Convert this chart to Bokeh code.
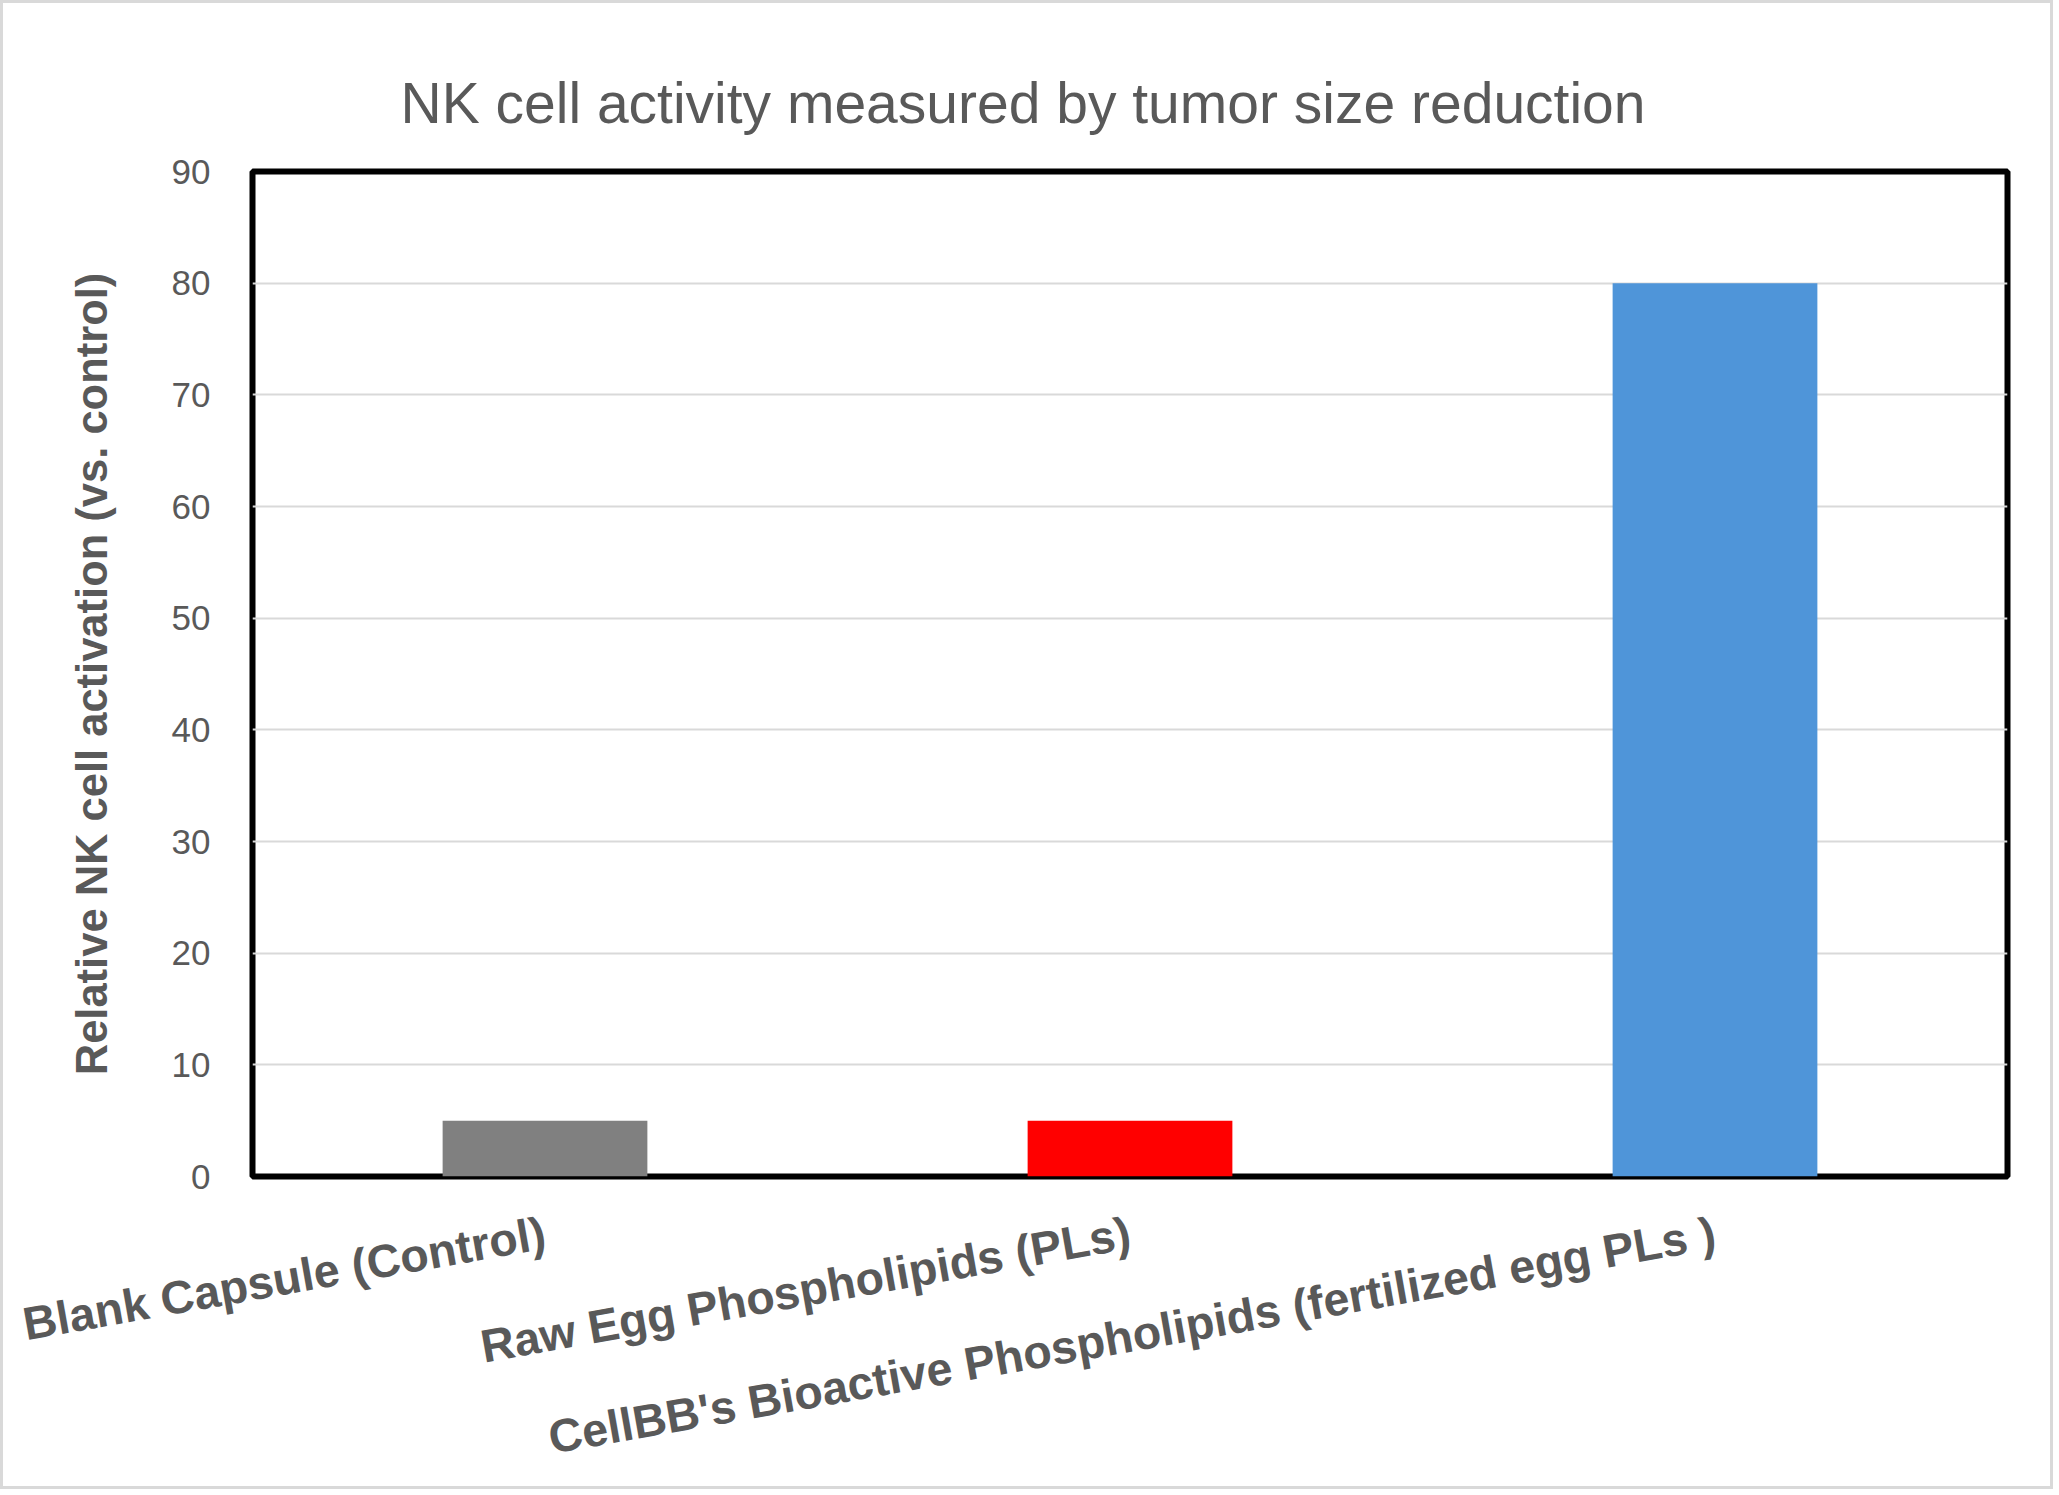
from bokeh.plotting import figure
from bokeh.models import FactorRange, Range1d, ColumnDataSource, FixedTicker
from bokeh.embed import file_html
from bokeh.resources import INLINE

categories = ["Blank Capsule (Control)",
              "Raw Egg Phospholipids (PLs)",
              "CellBB's Bioactive Phospholipids (fertilized egg PLs )"]
values = [5, 5, 80]
colors = ["#808080", "#FF0000", "#4F95D9"]
y_ticks = [0, 10, 20, 30, 40, 50, 60, 70, 80, 90]
title_text = "NK cell activity measured by tumor size reduction"
y_label = "Relative NK cell activation (vs. control)"

TXT = "#595959"
FONT = "Liberation Sans"

W, H = 2053, 1489
FL, FT, FW, FH = 249, 168, 1755, 1006

p = figure(width=W, height=H,
           x_range=FactorRange(*categories, range_padding=0),
           y_range=Range1d(0, 90),
           output_backend="svg", toolbar_location=None,
           min_border_left=FL, min_border_top=FT,
           min_border_right=W - FL - FW, min_border_bottom=H - FT - FH)
p.styles = {"border": "3px solid #d9d9d9"}

src = ColumnDataSource(dict(cat=categories, val=values, color=colors))
p.vbar(x="cat", top="val", bottom=0, width=0.35, color="color", source=src, line_color=None)

p.title.text = title_text
p.title.align = "left"
p.title.text_font = FONT
p.title.text_font_size = "57px"
p.title.text_font_style = "normal"
p.title.text_color = TXT
p.title.offset = 148
p.title.standoff = 74

p.outline_line_color = "black"
p.outline_line_width = 6
p.background_fill_color = "white"
p.border_fill_color = "white"

p.xgrid.grid_line_color = None
p.ygrid.grid_line_color = "#d9d9d9"
p.ygrid.grid_line_width = 2

p.yaxis.ticker = FixedTicker(ticks=y_ticks)
p.yaxis.major_label_text_font = FONT
p.yaxis.major_label_text_font_size = "35px"
p.yaxis.major_label_text_color = TXT
p.yaxis.major_tick_line_color = None
p.yaxis.minor_tick_line_color = None
p.yaxis.axis_line_color = None
p.yaxis.major_label_standoff = 36
p.yaxis.axis_label = y_label
p.yaxis.axis_label_text_font = FONT
p.yaxis.axis_label_text_font_size = "43.5px"
p.yaxis.axis_label_text_font_style = "bold"
p.yaxis.axis_label_text_color = TXT
p.yaxis.axis_label_standoff = 53

p.xaxis.major_label_orientation = 0.1745
p.xaxis.major_label_text_font = FONT
p.xaxis.major_label_text_font_size = "46.5px"
p.xaxis.major_label_text_font_style = "bold"
p.xaxis.major_label_text_color = TXT
p.xaxis.major_tick_line_color = None
p.xaxis.axis_line_color = None
p.xaxis.major_label_standoff = 50

open("out.html", "w").write(file_html(p, INLINE))
